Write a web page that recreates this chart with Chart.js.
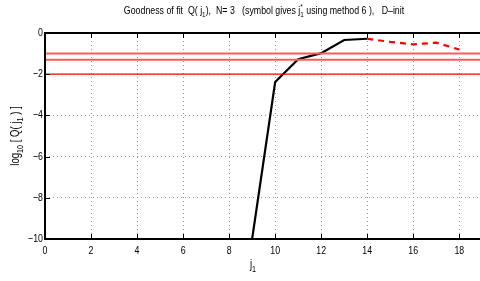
<!DOCTYPE html>
<html>
<head>
<meta charset="utf-8">
<script src="https://cdn.jsdelivr.net/npm/chart.js@4"></script>
<style>
  html, body { margin: 0; padding: 0; background: #fff; }
  #wrap { width: 480px; height: 281px; }
</style>
</head>
<body>
<div id="wrap"><canvas id="chart" width="480" height="281"></canvas></div>
<script>
const FONT = '"Liberation Sans", Arial, sans-serif';
const NARROW = 0.8; // horizontal squeeze, reference uses a condensed face

/* ================= DATA ================= */
const fitX = [0, 1, 2, 3, 4, 5, 6, 7, 8, 9, 10, 11, 12, 13, 14];
const fitY = [-10, -10, -10, -10, -10, -10, -10, -10, -10, -10, -2.38, -1.27, -0.98, -0.34, -0.28];
const extX = [14, 15, 16, 17, 18];
const extY = [-0.28, -0.43, -0.55, -0.47, -0.8];
const refLevels = [-1, -1.3, -2];
const refColors = ["#ff5a5a", "#ff5a5a", "#ff0000"];
const refWidths = [2, 2, 1.3];
const xTicks = [0, 2, 4, 6, 8, 10, 12, 14, 16, 18];
const yTicks = [0, -2, -4, -6, -8, -10];
const xMin = 0, xMax = 18.9;

function pts(xs, ys) { return xs.map((x, i) => ({ x: x, y: ys[i] })); }

/* ================= TEXT ================= */
function richWidth(ctx, parts, size) {
  const small = Math.round(size * 0.72);
  let w = 0;
  parts.forEach(p => {
    if (typeof p === "string") { ctx.font = size + "px " + FONT; w += ctx.measureText(p).width; }
    else { ctx.font = small + "px " + FONT; w += ctx.measureText(p.sub || p.sup).width; }
  });
  return w;
}

// draws centred at (x, y) baseline, squeezed horizontally
function drawRich(ctx, parts, x, y, size) {
  const small = Math.round(size * 0.72);
  const w = richWidth(ctx, parts, size);
  ctx.save();
  ctx.translate(x, y);
  ctx.scale(NARROW, 1);
  let cx = -w / 2;
  ctx.textAlign = "left";
  ctx.textBaseline = "alphabetic";
  parts.forEach(p => {
    if (typeof p === "string") {
      ctx.font = size + "px " + FONT;
      ctx.fillText(p, cx, 0);
      cx += ctx.measureText(p).width;
    } else {
      ctx.font = small + "px " + FONT;
      if (p.sub) {
        ctx.fillText(p.sub, cx, size * 0.3);
        if (p.sup) ctx.fillText(p.sup, cx, -size * 0.5);
        cx += ctx.measureText(p.sub).width;
      } else {
        ctx.fillText(p.sup, cx, -size * 0.5);
        cx += ctx.measureText(p.sup).width;
      }
    }
  });
  ctx.restore();
}

function drawLabel(ctx, text, x, y, align, size) {
  ctx.save();
  ctx.translate(x, y);
  ctx.scale(NARROW, 1);
  ctx.font = size + "px " + FONT;
  ctx.textAlign = align;
  ctx.textBaseline = "middle";
  ctx.fillText(text, 0, 0);
  ctx.restore();
}

const decor = {
  id: "decor",
  afterDraw(chart) {
    const ctx = chart.ctx;
    const a = chart.chartArea;
    const xs = chart.scales.x, ys = chart.scales.y;
    ctx.save();
    ctx.fillStyle = "#000";
    ctx.strokeStyle = "#000";
    // inward ticks
    ctx.lineWidth = 1;
    ctx.beginPath();
    xTicks.forEach(v => {
      const px = Math.round(xs.getPixelForValue(v)) + 0.5;
      ctx.moveTo(px, a.bottom); ctx.lineTo(px, a.bottom - 5);
      ctx.moveTo(px, a.top); ctx.lineTo(px, a.top + 5);
    });
    yTicks.forEach(v => {
      const py = Math.round(ys.getPixelForValue(v)) + 0.5;
      ctx.moveTo(a.left, py); ctx.lineTo(a.left + 5, py);
    });
    ctx.stroke();
    // frame
    ctx.lineWidth = 2;
    ctx.beginPath();
    ctx.moveTo(a.right + 2, a.top); ctx.lineTo(a.left, a.top);
    ctx.lineTo(a.left, a.bottom); ctx.lineTo(a.right + 2, a.bottom);
    ctx.stroke();
    // tick labels
    xTicks.forEach(v => drawLabel(ctx, String(v), xs.getPixelForValue(v), a.bottom + 12, "center", 11));
    yTicks.forEach(v => drawLabel(ctx, v === 0 ? "0" : "\u2212" + Math.abs(v), a.left - 2, ys.getPixelForValue(v), "right", 11));
    // title
    drawRich(ctx, ["Goodness of fit  Q( j", { sub: "1" }, "),  N= 3   (symbol gives j", { sub: "1", sup: "*" },
      " using method 6 ),   D\u2013init"], 264, 14, 11);
    // x label
    drawRich(ctx, ["j", { sub: "1" }], 253, 268, 12);
    // y label
    ctx.translate(19, 136);
    ctx.rotate(-Math.PI / 2);
    drawRich(ctx, ["log", { sub: "10" }, " [ Q( j", { sub: "1" }, " ) ]"], 0, 0, 12);
    ctx.restore();
  }
};

/* ================= CHART ================= */
const datasets = refLevels.map((lv, i) => ({
  data: pts([xMin, xMax], [lv, lv]),
  borderColor: refColors[i],
  borderWidth: refWidths[i],
  pointRadius: 0
}));
datasets.push({
  data: pts(extX, extY),
  borderColor: "#ff0000",
  borderWidth: 2.2,
  borderDash: [6, 5],
  pointRadius: 0
});
datasets.push({
  data: pts(fitX, fitY),
  borderColor: "#000",
  borderWidth: 2.2,
  pointRadius: 0
});

new Chart(document.getElementById("chart"), {
  type: "line",
  data: { datasets: datasets },
  plugins: [decor],
  options: {
    responsive: false,
    animation: false,
    clip: false,
    layout: { padding: { top: 33, right: 0, left: 0, bottom: 0 } },
    plugins: { legend: { display: false }, tooltip: { enabled: false } },
    scales: {
      x: {
        type: "linear", min: xMin, max: xMax,
        afterBuildTicks: s => { s.ticks = xTicks.map(v => ({ value: v })); },
        afterFit: s => { s.height = 42; },
        grid: { color: "#999", lineWidth: 1, drawTicks: false },
        border: { display: false, dash: [1, 3] },
        ticks: { display: false }
      },
      y: {
        type: "linear", min: -10, max: 0,
        afterBuildTicks: s => { s.ticks = yTicks.map(v => ({ value: v })); },
        afterFit: s => { s.width = 45; },
        grid: { color: "#999", lineWidth: 1, drawTicks: false },
        border: { display: false, dash: [1, 3] },
        ticks: { display: false }
      }
    }
  }
});
</script>
</body>
</html>
